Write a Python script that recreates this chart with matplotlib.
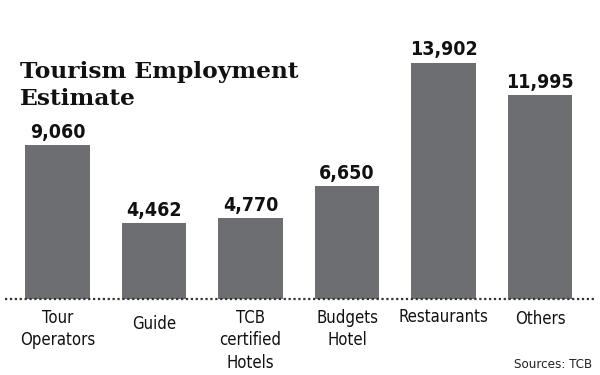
import matplotlib.pyplot as plt

categories = ["Tour\nOperators", "Guide", "TCB\ncertified\nHotels", "Budgets\nHotel", "Restaurants", "Others"]
values = [9060, 4462, 4770, 6650, 13902, 11995]
value_labels = ["9,060", "4,462", "4,770", "6,650", "13,902", "11,995"]

fig = plt.figure(figsize=(6, 3.75), dpi=100)
ax = fig.add_axes([0, 0, 1, 1])
ax.set_xlim(-0.596, 5.62)
ax.set_ylim(-4470, 17590)
ax.axis("off")

x = list(range(len(values)))
ax.bar(x, values, width=0.67, color="#6d6e71", zorder=2)

ax.plot([-0.54, 5.57], [0, 0], color="#333333", linestyle=(0, (1, 1.2)), linewidth=1.6, zorder=3)

for xi, v, lab in zip(x, values, value_labels):
    ax.text(xi, v + 200, lab, ha="center", va="bottom", fontsize=14, fontweight="bold",
            fontstretch="condensed", family=["DejaVu Sans"], color="#111111")

# category labels, Guide sits a little lower
offsets = [600, 950, 600, 600, 530, 650]
for xi, cat, off in zip(x, categories, offsets):
    ax.text(xi, -off, cat, ha="center", va="top", fontsize=12, linespacing=1.3,
            fontstretch="condensed", family=["DejaVu Sans"], color="#111111")

fig.text(0.033, 0.772, "Tourism Employment\nEstimate", ha="left", va="center", fontsize=16.8,
         fontweight="bold", family=["DejaVu Serif"], linespacing=1.35, color="#111111")

fig.text(0.987, 0.012, "Sources: TCB", ha="right", va="bottom", fontsize=9.5,
         fontstretch="condensed", family=["DejaVu Sans"], color="#222222")

fig.savefig("out.png", dpi=100, facecolor="white")
